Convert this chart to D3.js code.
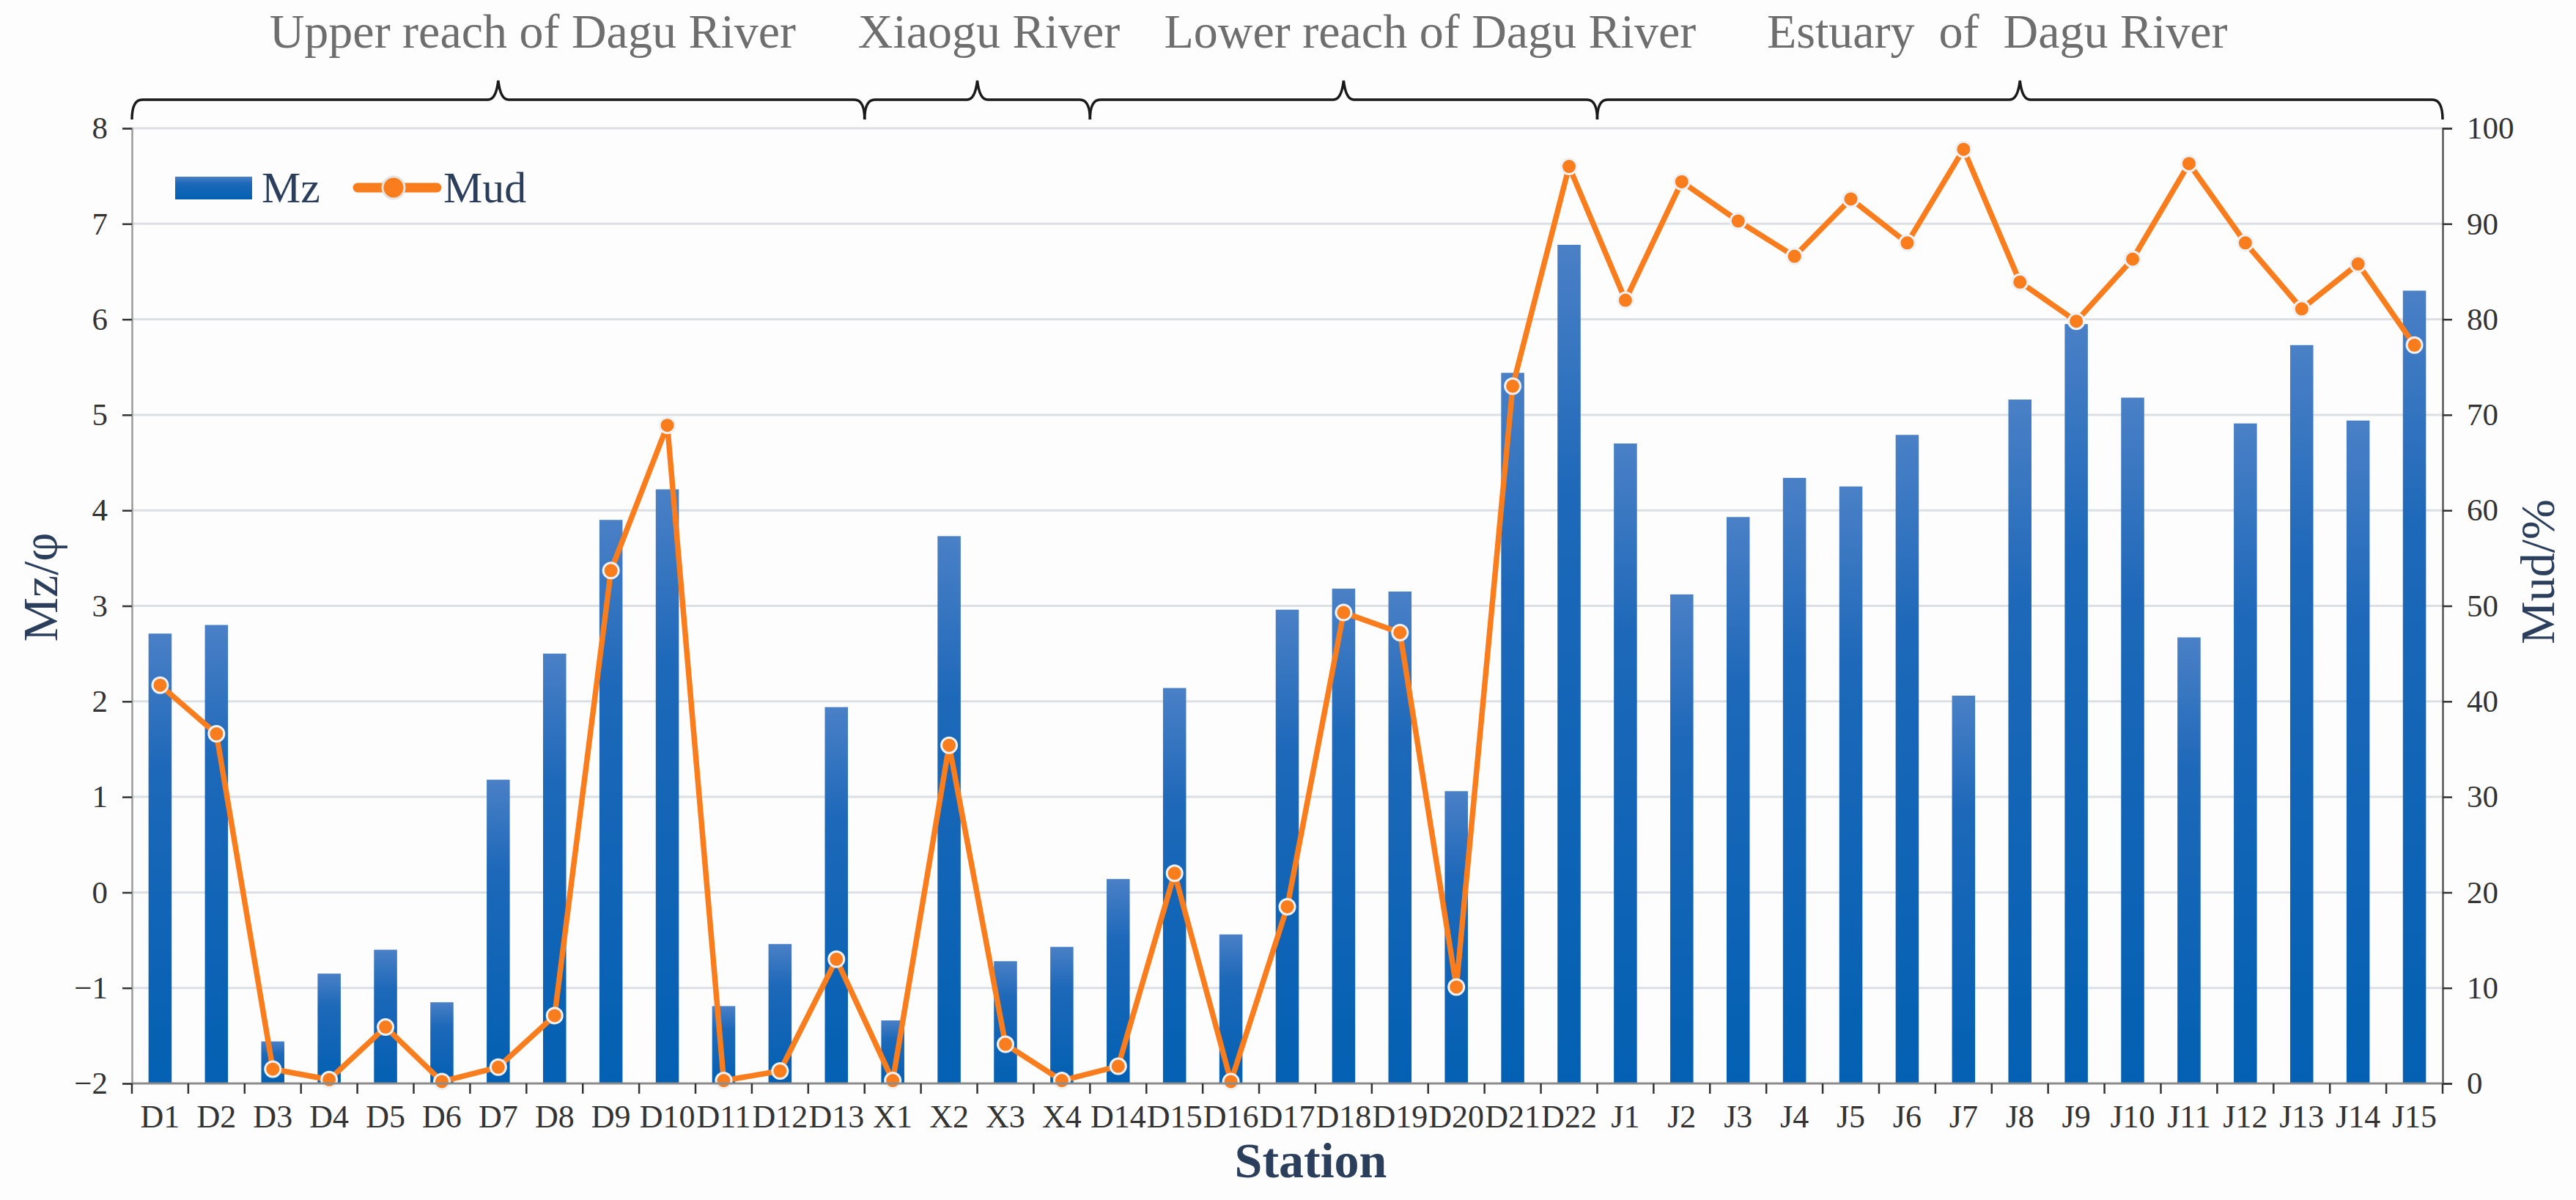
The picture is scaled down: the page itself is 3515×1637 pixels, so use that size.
<!DOCTYPE html>
<html>
<head>
<meta charset="utf-8">
<script src="https://cdn.jsdelivr.net/npm/d3@7"></script>
<style>
  body { margin: 0; background: #fff; }
  svg text { font-family: "Liberation Serif", "Times New Roman", serif; }
</style>
</head>
<body>
<div id="chart"></div>
<script>
// Stations along the river, left to right
const stations = ['D1','D2','D3','D4','D5','D6','D7','D8','D9','D10','D11','D12','D13',
  'X1','X2','X3','X4','D14','D15','D16','D17','D18','D19','D20','D21','D22',
  'J1','J2','J3','J4','J5','J6','J7','J8','J9','J10','J11','J12','J13','J14','J15'];

// Mean grain size (phi)
const mzValues = [2.71, 2.80, -1.56, -0.85, -0.60, -1.15, 1.18, 2.50, 3.90, 4.22, -1.19, -0.54, 1.94,
  -1.34, 3.73, -0.72, -0.57, 0.14, 2.14, -0.44, 2.96, 3.18, 3.15, 1.06, 5.44, 6.78,
  4.70, 3.12, 3.93, 4.34, 4.25, 4.79, 2.06, 5.16, 5.95, 5.18, 2.67, 4.91, 5.73, 4.94, 6.30];

// Mud content (%)
const mudValues = [41.7, 36.6, 1.5, 0.4, 5.9, 0.2, 1.7, 7.1, 53.7, 68.9, 0.3, 1.3, 13.0,
  0.3, 35.4, 4.1, 0.3, 1.8, 22.0, 0.2, 18.5, 49.3, 47.2, 10.1, 73.0, 96.0,
  82.0, 94.4, 90.3, 86.6, 92.6, 88.0, 97.8, 83.9, 79.8, 86.3, 96.3, 88.0, 81.1, 85.8, 77.3];

// River sections shown by the braces on top
const sectionNames = ['Upper reach of Dagu River', 'Xiaogu River', 'Lower reach of Dagu River', 'Estuary  of  Dagu River'];
const sectionFirst = ['D1', 'X1', 'D14', 'J1'];
const sectionLast = ['D13', 'X4', 'D22', 'J15'];

const mzTicks = [-2, -1, 0, 1, 2, 3, 4, 5, 6, 7, 8];
const mudTicks = [0, 10, 20, 30, 40, 50, 60, 70, 80, 90, 100];

function renderChart() {
  const width = 3515;
  const height = 1637;
  const margin = { top: 175, right: 182, bottom: 159, left: 180 };
  const plotW = width - margin.left - margin.right;
  const plotH = height - margin.top - margin.bottom;
  const navy = '#2b3f5c';
  const orange = '#f97c1d';

  const svg = d3.select('#chart')
    .append('svg')
    .attr('width', width)
    .attr('height', height);

  svg.append('rect')
    .attr('width', width)
    .attr('height', height)
    .attr('fill', '#fdfdfd');

  const defs = svg.append('defs');
  const grad = defs.append('linearGradient')
    .attr('id', 'barGrad')
    .attr('x1', 0).attr('y1', 0).attr('x2', 0).attr('y2', 1);
  grad.append('stop').attr('offset', '0%').attr('stop-color', '#4a80c6');
  grad.append('stop').attr('offset', '30%').attr('stop-color', '#1d68b9');
  grad.append('stop').attr('offset', '100%').attr('stop-color', '#0360b2');

  const g = svg.append('g')
    .attr('transform', `translate(${margin.left},${margin.top})`);

  // Scales
  const x = d3.scaleBand().domain(stations).range([0, plotW]).padding(0);
  const step = x.step();
  const barW = step * 0.41;
  const yMz = d3.scaleLinear().domain([-2, 8]).range([plotH, 0]);
  const yMud = d3.scaleLinear().domain([0, 100]).range([plotH, 0]);

  // Gridlines
  g.append('g')
    .selectAll('line')
    .data(mzTicks.filter(t => t > -2))
    .enter()
    .append('line')
    .attr('x1', 0)
    .attr('x2', plotW)
    .attr('y1', d => yMz(d))
    .attr('y2', d => yMz(d))
    .attr('stroke', '#dcdfe4')
    .attr('stroke-width', 3);

  // Bars
  g.append('g')
    .selectAll('rect')
    .data(stations)
    .enter()
    .append('rect')
    .attr('x', d => x(d) + (step - barW) / 2)
    .attr('width', barW)
    .attr('y', (d, i) => yMz(mzValues[i]))
    .attr('height', (d, i) => yMz(-2) - yMz(mzValues[i]))
    .attr('fill', 'url(#barGrad)');

  // Mud line
  const line = d3.line()
    .x(d => x(d) + step / 2)
    .y((d, i) => yMud(mudValues[i]));

  g.append('path')
    .datum(stations)
    .attr('d', line)
    .attr('fill', 'none')
    .attr('stroke', orange)
    .attr('stroke-width', 7.5)
    .attr('stroke-linejoin', 'round');

  g.append('g')
    .selectAll('circle')
    .data(stations)
    .enter()
    .append('circle')
    .attr('cx', d => x(d) + step / 2)
    .attr('cy', (d, i) => yMud(mudValues[i]))
    .attr('r', 10.5)
    .attr('fill', orange)
    .attr('stroke', '#eef1f5')
    .attr('stroke-width', 3);

  // Left axis
  const leftAxis = g.append('g')
    .call(d3.axisLeft(yMz).tickValues(mzTicks).tickSize(13).tickPadding(20).tickFormat(d3.format('d')));
  leftAxis.select('.domain').attr('stroke', '#9a9a9a').attr('stroke-width', 2.5);
  leftAxis.selectAll('.tick line').attr('stroke', '#333').attr('stroke-width', 2.5);
  leftAxis.selectAll('.tick text')
    .attr('font-size', 43)
    .attr('fill', '#333')
    .style('font-family', '"Liberation Serif", serif');

  // Right axis
  const rightAxis = g.append('g')
    .attr('transform', `translate(${plotW},0)`)
    .call(d3.axisRight(yMud).tickValues(mudTicks).tickSize(13).tickPadding(20));
  rightAxis.select('.domain').attr('stroke', '#555').attr('stroke-width', 2.5);
  rightAxis.selectAll('.tick line').attr('stroke', '#333').attr('stroke-width', 2.5);
  rightAxis.selectAll('.tick text')
    .attr('font-size', 43)
    .attr('fill', '#333')
    .style('font-family', '"Liberation Serif", serif');

  // Bottom axis: ticks at band edges, labels at band centres
  const bottom = g.append('g').attr('transform', `translate(0,${plotH})`);
  bottom.append('line')
    .attr('x1', 0).attr('x2', plotW)
    .attr('stroke', '#8c8c8c')
    .attr('stroke-width', 3);
  bottom.selectAll('.edge')
    .data(stations.concat(['end']))
    .enter()
    .append('line')
    .attr('class', 'edge')
    .attr('x1', (d, i) => i * step)
    .attr('x2', (d, i) => i * step)
    .attr('y1', 0)
    .attr('y2', 14)
    .attr('stroke', '#333')
    .attr('stroke-width', 2.5);
  bottom.selectAll('.lab')
    .data(stations)
    .enter()
    .append('text')
    .attr('class', 'lab')
    .attr('x', d => x(d) + step / 2)
    .attr('y', 60)
    .attr('text-anchor', 'middle')
    .attr('font-size', 44)
    .attr('fill', '#333')
    .text(d => d);

  // Axis titles
  svg.append('text')
    .attr('transform', 'translate(78,801) rotate(-90)')
    .attr('text-anchor', 'middle')
    .attr('font-size', 68)
    .attr('fill', navy)
    .text('Mz/φ');

  svg.append('text')
    .attr('transform', `translate(${margin.left + plotW + 152},780) rotate(-90)`)
    .attr('text-anchor', 'middle')
    .attr('font-size', 66)
    .attr('fill', navy)
    .text('Mud/%');

  svg.append('text')
    .attr('x', margin.left + plotW / 2 + 32)
    .attr('y', 1606)
    .attr('text-anchor', 'middle')
    .attr('font-size', 68)
    .attr('font-weight', 'bold')
    .attr('fill', navy)
    .text('Station');

  // Section braces and names
  const braceY = 136 - margin.top;
  const tipY = 110 - margin.top;
  const endY = 163 - margin.top;
  const titleShift = [47, 16, 118, -31];

  sectionNames.forEach((name, i) => {
    const x0 = x(sectionFirst[i]);
    const x1 = x(sectionLast[i]) + step;
    const xm = (x0 + x1) / 2;
    const r = 14;
    const p = d3.path();
    p.moveTo(x0, endY);
    p.quadraticCurveTo(x0, braceY, x0 + r, braceY);
    p.lineTo(xm - r, braceY);
    p.quadraticCurveTo(xm - 3, braceY, xm, tipY);
    p.quadraticCurveTo(xm + 3, braceY, xm + r, braceY);
    p.lineTo(x1 - r, braceY);
    p.quadraticCurveTo(x1, braceY, x1, endY);

    g.append('path')
      .attr('d', p.toString())
      .attr('fill', 'none')
      .attr('stroke', '#1a1a1a')
      .attr('stroke-width', 3.5);

    g.append('text')
      .attr('x', xm + titleShift[i])
      .attr('y', 65 - margin.top)
      .attr('text-anchor', 'middle')
      .attr('font-size', 66)
      .attr('fill', '#6e6e6e')
      .style('white-space', 'pre')
      .text(name);
  });

  // Legend
  const legend = svg.append('g');
  legend.append('rect')
    .attr('x', 239).attr('y', 241)
    .attr('width', 105).attr('height', 31)
    .attr('fill', 'url(#barGrad)');
  legend.append('text')
    .attr('x', 357).attr('y', 276)
    .attr('font-size', 60)
    .attr('fill', navy)
    .text('Mz');
  legend.append('line')
    .attr('x1', 488).attr('x2', 596)
    .attr('y1', 256).attr('y2', 256)
    .attr('stroke', orange)
    .attr('stroke-width', 13)
    .attr('stroke-linecap', 'round');
  legend.append('circle')
    .attr('cx', 537).attr('cy', 256)
    .attr('r', 15)
    .attr('fill', orange)
    .attr('stroke', '#e3e3e3')
    .attr('stroke-width', 3);
  legend.append('text')
    .attr('x', 605).attr('y', 276)
    .attr('font-size', 60)
    .attr('fill', navy)
    .text('Mud');
}

renderChart();
</script>
</body>
</html>
